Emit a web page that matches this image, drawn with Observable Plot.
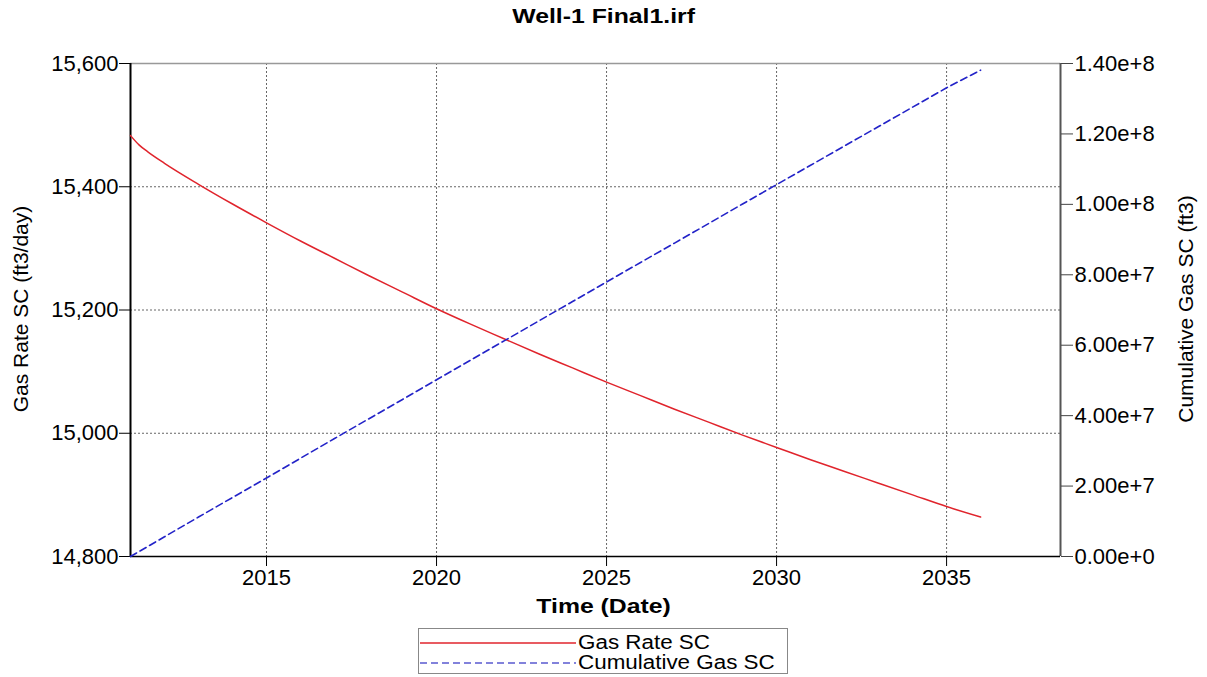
<!DOCTYPE html>
<html>
<head>
<meta charset="utf-8">
<script src="https://cdn.jsdelivr.net/npm/d3@7"></script>
<script src="https://cdn.jsdelivr.net/npm/@observablehq/plot@0.6"></script>
<style>
  html, body { margin: 0; padding: 0; background: #fff; }
  #wrap { position: relative; width: 1207px; height: 677px; font-family: "Liberation Sans", Arial, sans-serif; color: #000; }
  #title { position: absolute; left: 0; top: 5px; width: 1207px; text-align: center; font-weight: bold; font-size: 21px; line-height: 22px; transform: scaleX(1.18); transform-origin: 603px 0; }
  #chart { position: absolute; left: 0; top: 35px; }
  .ylab { position: absolute; top: 309px; white-space: nowrap; font-size: 21px; line-height: 22px; transform: translate(-50%, -50%) rotate(-90deg); }
  #xlab { position: absolute; left: 0; width: 1207px; top: 595px; text-align: center; font-weight: bold; font-size: 21px; line-height: 22px; transform: scaleX(1.18); transform-origin: 603px 0; }
  #legend { position: absolute; left: 418px; top: 628px; width: 368px; height: 44px; border: 1px solid #888; background: #fff; }
  #legend .row { position: absolute; left: 0; height: 20px; font-size: 20px; line-height: 20px; white-space: nowrap; }
  #legend svg { position: absolute; left: 1px; top: 0; }
  #legend span { position: absolute; left: 159px; top: 0; transform: scaleX(1.12); transform-origin: 0 0; }
</style>
</head>
<body>
<div id="wrap">
  <div id="title">Well-1 Final1.irf</div>
  <div id="chart"></div>
  <div class="ylab" style="left:21px">Gas Rate SC (ft3/day)</div>
  <div class="ylab" style="left:1186px">Cumulative Gas SC (ft3)</div>
  <div id="xlab">Time (Date)</div>
  <div id="legend"></div>
</div>
<script>
// ---- data ----
const rateYears  = [2011, 2011.25, 2011.5, 2012, 2013, 2014, 2015, 2016, 2017, 2018, 2019, 2020, 2021, 2022, 2023, 2024, 2025, 2026, 2027, 2028, 2029, 2030, 2031, 2032, 2033, 2034, 2035, 2036];
const rateValues = [15483, 15468, 15457, 15438, 15404, 15372, 15341.5, 15312, 15284, 15256, 15229, 15202, 15177, 15153, 15129, 15106, 15083, 15061, 15039, 15018, 14997, 14977, 14957, 14938, 14919, 14900, 14881, 14864];

const cumYears  = [2011, 2012, 2013, 2014, 2015, 2016, 2017, 2018, 2019, 2020, 2021, 2022, 2023, 2024, 2025, 2026, 2027, 2028, 2029, 2030, 2031, 2032, 2033, 2034, 2035, 2036];
const cumValues = [0, 5.6e6, 11.2e6, 16.75e6, 22.3e6, 27.9e6, 33.5e6, 39.05e6, 44.6e6, 50.2e6, 55.75e6, 61.3e6, 66.85e6, 72.4e6, 77.95e6, 83.5e6, 89.0e6, 94.55e6, 100.1e6, 105.6e6, 111.1e6, 116.6e6, 122.1e6, 127.6e6, 133.1e6, 138.1e6];

const xTicks = [2015, 2020, 2025, 2030, 2035];
const xDomain = [2011, 2038.35];
const yTicks = [14800, 15000, 15200, 15400, 15600];
const yGrid = [15000, 15200, 15400];
const yDomain = [14800, 15600];
const cumTicks = [0, 2e7, 4e7, 6e7, 8e7, 1e8, 1.2e8, 1.4e8];
const cumDomain = [0, 1.4e8];

const seriesNames = ["Gas Rate SC", "Cumulative Gas SC"];
const colors = ["#e0242c", "#2323c8"];

// ---- build tables ----
const rateRows = rateYears.map((y, i) => ({year: y, rate: rateValues[i]}));
const cumRows = cumYears.map((y, i) => ({year: y, cum: cumValues[i]}));

// map right-axis values onto the left y scale (dual axis)
const toLeft = c => yDomain[0] + (c - cumDomain[0]) / (cumDomain[1] - cumDomain[0]) * (yDomain[1] - yDomain[0]);
const fromLeft = v => cumDomain[0] + (v - yDomain[0]) / (yDomain[1] - yDomain[0]) * (cumDomain[1] - cumDomain[0]);
const fmtE = d3.format(".2e");

const chart = Plot.plot({
  width: 1207,
  height: 590,
  marginLeft: 130,
  marginRight: 147,
  marginTop: 28,
  marginBottom: 69,
  x: {domain: xDomain},
  y: {domain: yDomain},
  style: {fontFamily: "'Liberation Sans', Arial, sans-serif", fontSize: "22px", background: "white", color: "#000"},
  marks: [
    Plot.ruleX(xTicks, {stroke: "#666", strokeWidth: 1, strokeDasharray: "2,2"}),
    Plot.ruleY(yGrid, {stroke: "#666", strokeWidth: 1, strokeDasharray: "2,2"}),
    Plot.ruleY([yDomain[1]], {stroke: "#999", strokeWidth: 1.5}),
    Plot.ruleX([xDomain[1]], {stroke: "#555", strokeWidth: 2}),
    Plot.ruleY([yDomain[0]], {stroke: "#000", strokeWidth: 1.5}),
    Plot.ruleX([xDomain[0]], {stroke: "#000", strokeWidth: 2}),
    Plot.axisX({ticks: xTicks, tickFormat: d => String(d), tickSize: 10, tickPadding: 3, fontSize: 22, label: null}),
    Plot.axisY({anchor: "left", ticks: yTicks, tickFormat: d3.format(","), tickSize: 11, tickPadding: 1, fontSize: 22, label: null}),
    Plot.axisY({anchor: "right", ticks: cumTicks.map(toLeft), tickFormat: v => fmtE(Math.round(fromLeft(v) / 1e6) * 1e6),
                tickSize: 12, tickPadding: 2, fontSize: 22, stroke: "#444", label: null}),
    Plot.line(rateRows, {x: "year", y: "rate", stroke: colors[0], strokeWidth: 1.5, curve: "monotone-x"}),
    Plot.line(cumRows, {x: "year", y: d => toLeft(d.cum), stroke: colors[1], strokeWidth: 1.6, strokeDasharray: "7,4"})
  ]
});
document.getElementById("chart").appendChild(chart);

// ---- legend ----
const legend = document.getElementById("legend");
seriesNames.forEach((name, i) => {
  const row = document.createElement("div");
  row.className = "row";
  row.style.top = (i === 0 ? 3 : 23) + "px";
  row.style.width = "368px";
  const dash = i === 1 ? ' stroke-dasharray="7,4"' : '';
  const col = i === 1 ? "#5a5ad0" : colors[0];
  row.innerHTML = `<svg width="156" height="20"><line x1="0" x2="156" y1="11" y2="11" stroke="${col}" stroke-width="1.5"${dash}/></svg><span>${name}</span>`;
  legend.appendChild(row);
});
</script>
</body>
</html>
